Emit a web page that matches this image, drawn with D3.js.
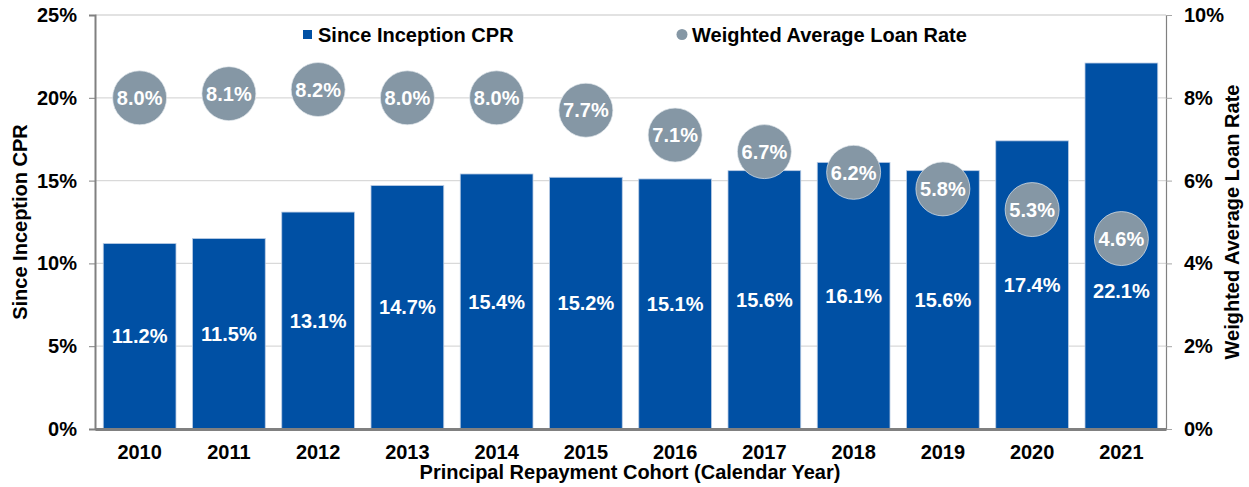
<!DOCTYPE html>
<html>
<head>
<meta charset="utf-8">
<script src="https://cdn.jsdelivr.net/npm/d3@7"></script>
<style>
  html, body { margin: 0; padding: 0; background: #fff; }
  svg { display: block; font-family: "Liberation Sans", Arial, sans-serif; font-weight: bold; }
</style>
</head>
<body>
<svg id="chart" width="1249" height="487"></svg>
<script>
const years = ["2010","2011","2012","2013","2014","2015","2016","2017","2018","2019","2020","2021"];
const cprValues = [11.2, 11.5, 13.1, 14.7, 15.4, 15.2, 15.1, 15.6, 16.1, 15.6, 17.4, 22.1];
const loanRates = [8.0, 8.1, 8.2, 8.0, 8.0, 7.7, 7.1, 6.7, 6.2, 5.8, 5.3, 4.6];
const leftTicks = [0, 5, 10, 15, 20, 25];
const rightTicks = [0, 2, 4, 6, 8, 10];
const seriesNames = ["Since Inception CPR", "Weighted Average Loan Rate"];
const xTitle = "Principal Repayment Cohort (Calendar Year)";

const barColor = "#0050a4";
const dotColor = "#8597a5";
const fs = 20;

const svg = d3.select("#chart");
const pLeft = 95, pRight = 1166, pTop = 15, pBottom = 429;

const x = d3.scaleBand().domain(years).range([pLeft, pRight]).paddingInner(0.185).paddingOuter(0.0925);
const yL = d3.scaleLinear().domain([0, 25]).range([pBottom, pTop]);
const yR = d3.scaleLinear().domain([0, 10]).range([pBottom, pTop]);

// gridlines
svg.append("g").selectAll("line").data(leftTicks.filter(d => d > 0)).join("line")
  .attr("x1", pLeft).attr("x2", pRight)
  .attr("y1", d => yL(d)).attr("y2", d => yL(d))
  .attr("stroke", "#d9d9d9").attr("stroke-width", 1.3);

// bars
svg.append("g").selectAll("rect").data(years).join("rect")
  .attr("x", d => x(d)).attr("width", x.bandwidth())
  .attr("y", (d, i) => yL(cprValues[i]))
  .attr("height", (d, i) => pBottom - yL(cprValues[i]))
  .attr("fill", barColor).attr("stroke", "#b9cbe4").attr("stroke-width", 0.8);

// left axis
const axL = d3.axisLeft(yL).tickValues(leftTicks).tickFormat(d => d + "%").tickSize(6).tickPadding(12);
const gL = svg.append("g").attr("transform", `translate(${pLeft},0)`).call(axL);
gL.select(".domain").attr("stroke", "#808080").attr("stroke-width", 2);
gL.selectAll(".tick line").attr("stroke", "#808080").attr("stroke-width", 1);
gL.selectAll(".tick text").attr("font-size", fs).attr("font-weight", "bold").attr("fill", "#000")
  .attr("font-family", "Liberation Sans, Arial, sans-serif");

// right axis
const axR = d3.axisRight(yR).tickValues(rightTicks).tickFormat(d => d + "%").tickSize(6).tickPadding(12);
const gR = svg.append("g").attr("transform", `translate(${pRight},0)`).call(axR);
gR.select(".domain").attr("stroke", "#808080").attr("stroke-width", 1.2);
gR.selectAll(".tick line").attr("stroke", "#a6a6a6").attr("stroke-width", 1);
gR.selectAll(".tick text").attr("font-size", fs).attr("font-weight", "bold").attr("fill", "#000")
  .attr("font-family", "Liberation Sans, Arial, sans-serif");

// bottom axis
const axB = d3.axisBottom(x).tickSize(0).tickPadding(16);
const gB = svg.append("g").attr("transform", `translate(0,${pBottom})`).call(axB);
gB.select(".domain").attr("stroke", "#808080").attr("stroke-width", 3);
gB.selectAll(".tick text").attr("font-size", fs).attr("font-weight", "bold").attr("fill", "#000")
  .attr("font-family", "Liberation Sans, Arial, sans-serif");

// bar labels
svg.append("g").selectAll("text").data(years).join("text")
  .attr("x", d => x(d) + x.bandwidth() / 2)
  .attr("y", (d, i) => {
    const mid = (yL(cprValues[i]) + pBottom) / 2;
    const cy = yR(loanRates[i]);
    return Math.abs(mid - cy) < 45 ? cy + 52 : mid;
  })
  .attr("dy", "0.36em")
  .attr("text-anchor", "middle").attr("fill", "#fff").attr("font-size", fs)
  .text((d, i) => cprValues[i].toFixed(1) + "%");

// dots
const dots = svg.append("g");
dots.selectAll("circle").data(years).join("circle")
  .attr("cx", d => x(d) + x.bandwidth() / 2)
  .attr("cy", (d, i) => yR(loanRates[i]))
  .attr("r", 27)
  .attr("fill", dotColor).attr("stroke", "#e3e8ec").attr("stroke-width", 0.7);
dots.selectAll("text").data(years).join("text")
  .attr("x", d => x(d) + x.bandwidth() / 2)
  .attr("y", (d, i) => yR(loanRates[i]))
  .attr("dy", "0.36em")
  .attr("text-anchor", "middle").attr("fill", "#fff").attr("font-size", fs)
  .text((d, i) => loanRates[i].toFixed(1) + "%");

// legend
const lg = svg.append("g");
lg.append("rect").attr("x", 303).attr("y", 30).attr("width", 9).attr("height", 9).attr("fill", barColor);
lg.append("text").attr("x", 318).attr("y", 34.5).attr("dy", "0.36em").attr("font-size", fs).attr("fill", "#000").text(seriesNames[0]);
lg.append("circle").attr("cx", 682).attr("cy", 34.5).attr("r", 5.5).attr("fill", dotColor);
lg.append("text").attr("x", 692).attr("y", 34.5).attr("dy", "0.36em").attr("font-size", fs).attr("fill", "#000").text(seriesNames[1]);

// axis titles
svg.append("text").attr("transform", `translate(20,${(pTop + pBottom) / 2}) rotate(-90)`)
  .attr("text-anchor", "middle").attr("dy", "0.36em").attr("font-size", fs).attr("fill", "#000").text(seriesNames[0]);
svg.append("text").attr("transform", `translate(1232,${(pTop + pBottom) / 2}) rotate(-90)`)
  .attr("text-anchor", "middle").attr("dy", "0.36em").attr("font-size", fs).attr("fill", "#000").text(seriesNames[1]);
svg.append("text").attr("x", 630).attr("y", 472).attr("dy", "0.36em")
  .attr("text-anchor", "middle").attr("font-size", fs).attr("fill", "#000").text(xTitle);
</script>
</body>
</html>
